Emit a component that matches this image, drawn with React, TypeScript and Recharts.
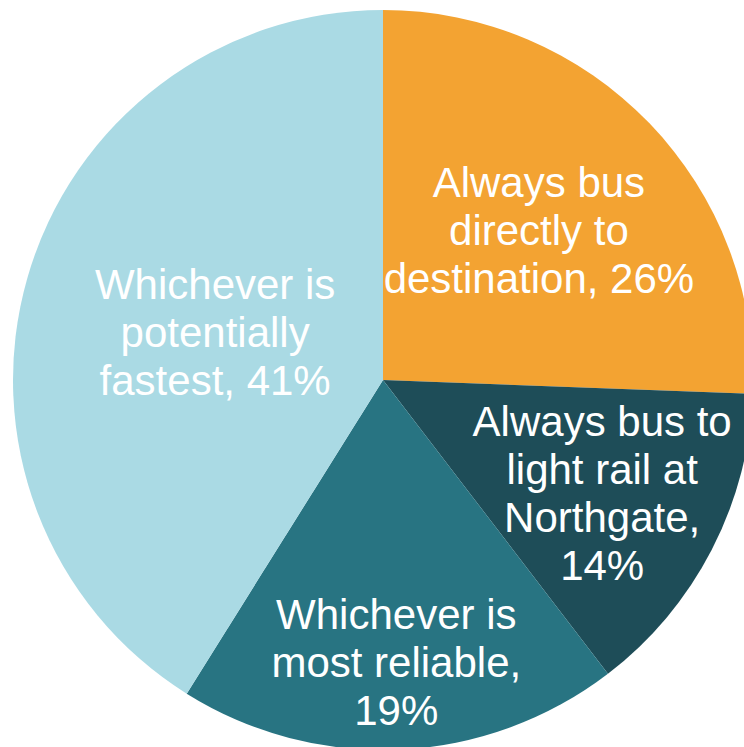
import { PieChart, Pie, Cell } from "recharts";

// Commute choice shares, clockwise from 12 o'clock
const CATEGORIES = [
  "Always bus directly to destination",
  "Always bus to light rail at Northgate",
  "Whichever is most reliable",
  "Whichever is potentially fastest",
];
const SHARES = [25.6, 14.0, 19.3, 41.1];

// how each label wraps; {p} is replaced by the rounded percentage
const LABEL_LINES = [
  ["Always bus", "directly to", "destination, {p}"],
  ["Always bus to", "light rail at", "Northgate,", "{p}"],
  ["Whichever is", "most reliable,", "{p}"],
  ["Whichever is", "potentially", "fastest, {p}"],
];

const COLORS = ["#F3A332", "#1E4D58", "#287482", "#AADAE4"];
// label distance from centre, as a fraction of the radius
const LABEL_RADIUS = [0.585, 0.667, 0.763, 0.472];

const FONT_SIZE = 42;
const LINE_HEIGHT = 48;
const RAD = Math.PI / 180;

const data = CATEGORIES.map((name, i) => ({ name, value: SHARES[i] }));

function renderLabel(props: any) {
  const { cx, cy, midAngle, outerRadius, index, value } = props;
  const r = outerRadius * LABEL_RADIUS[index];
  const x = cx + r * Math.cos(-midAngle * RAD);
  const y = cy + r * Math.sin(-midAngle * RAD);
  const pct = `${Math.round(value)}%`;
  const lines = LABEL_LINES[index].map((l) => l.replace("{p}", pct));
  const n = lines.length;
  return (
    <text
      x={x}
      y={y}
      fill="#ffffff"
      textAnchor="middle"
      fontFamily='"Liberation Sans", Arial, sans-serif'
      fontSize={FONT_SIZE}
    >
      {lines.map((line, i) => (
        <tspan
          key={i}
          x={x}
          y={y + (i - (n - 1) / 2) * LINE_HEIGHT + FONT_SIZE * 0.35}
        >
          {line}
        </tspan>
      ))}
    </text>
  );
}

export default function App() {
  return (
    <div style={{ position: "absolute", left: 0, top: 0, width: 744, height: 747, overflow: "hidden", background: "#ffffff" }}>
      <PieChart width={744} height={747} margin={{ top: 0, right: 0, bottom: 0, left: 0 }}>
        <Pie
          data={data}
          dataKey="value"
          nameKey="name"
          cx={383}
          cy={380}
          outerRadius={370}
          startAngle={90}
          endAngle={-270}
          stroke="none"
          labelLine={false}
          label={renderLabel}
          isAnimationActive={false}
        >
          {data.map((d, i) => (
            <Cell key={d.name} fill={COLORS[i]} />
          ))}
        </Pie>
      </PieChart>
    </div>
  );
}
